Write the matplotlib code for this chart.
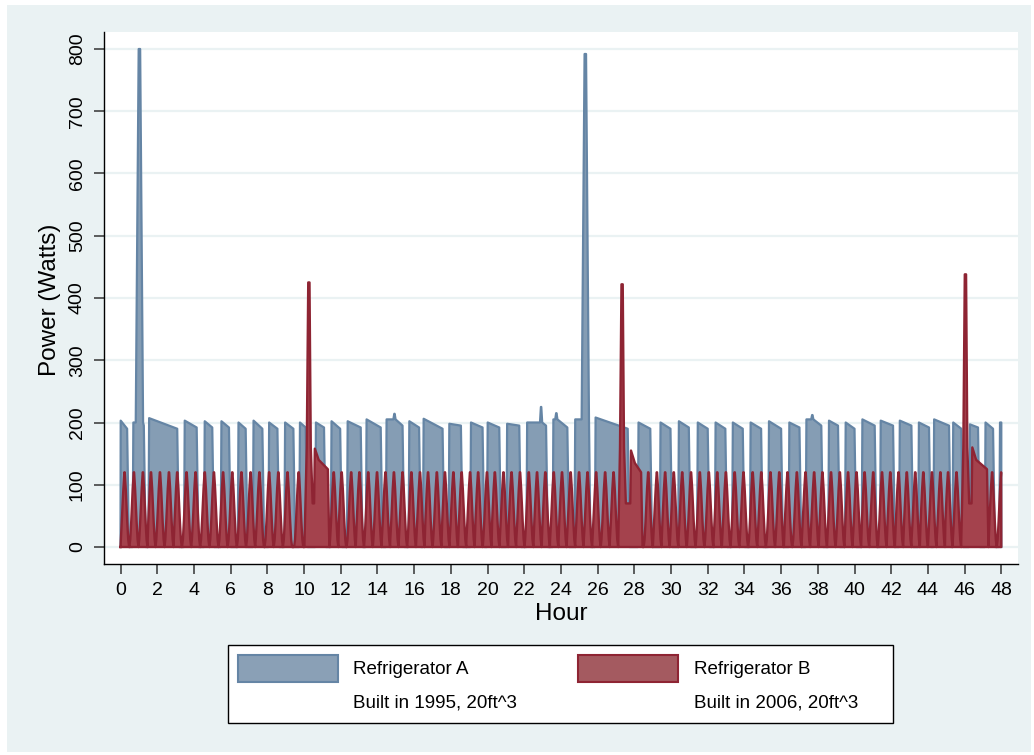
import numpy as np
import matplotlib
matplotlib.use("Agg")
import matplotlib.pyplot as plt
from matplotlib.patches import Rectangle

plt.rcParams['font.family'] = ['Liberation Sans', 'DejaVu Sans']

# Refrigerator A: compressor cycles (hour on, hour off, W at start, W at end)
a_on = [0.0, 0.69, 1.55, 3.49, 4.58, 5.49, 6.42, 7.24, 8.09, 8.96, 9.77, 10.64,
        11.49, 12.37, 13.4, 14.49, 15.73, 16.51, 17.91, 19.09, 20.0, 21.06, 22.15,
        23.58, 24.77, 25.88, 28.22, 29.42, 30.42, 31.45, 32.42, 33.36, 34.33, 35.33,
        36.44, 37.37, 38.6, 39.51, 40.42, 41.42, 42.46, 43.5, 44.33, 45.37, 46.28,
        47.13, 47.92]
a_off = [0.36, 1.27, 3.09, 4.15, 5.0, 5.91, 6.82, 7.73, 8.55, 9.42, 10.09, 11.09,
         11.97, 13.09, 14.18, 15.37, 16.27, 17.55, 18.55, 19.73, 20.64, 21.73, 23.19,
         24.35, 25.51, 27.64, 28.87, 29.97, 30.97, 32.0, 32.96, 33.91, 34.91, 36.0,
         37.0, 38.19, 39.1, 40.0, 41.1, 42.1, 43.1, 44.06, 45.15, 45.82, 46.73,
         47.55, 48.0]
a_top = [203, 200, 207, 203, 202, 202, 200, 203, 200, 200, 200, 200, 202, 202, 205,
         205, 202, 206, 198, 200, 200, 198, 200, 205, 205, 208, 200, 200, 202, 200,
         200, 200, 200, 202, 200, 205, 203, 200, 205, 203, 203, 200, 205, 200, 197,
         200, 200]
a_end = [190, 195, 190, 192, 192, 192, 190, 190, 190, 190, 192, 192, 190, 192, 192,
         195, 192, 190, 195, 192, 192, 195, 195, 192, 195, 190, 190, 190, 192, 190,
         190, 190, 190, 190, 192, 195, 195, 190, 195, 195, 195, 192, 195, 190, 192,
         190, 200]
# short surges inside the cycles of A
a_spike_t = [1.03, 14.93, 22.92, 23.75, 25.33, 37.7]
a_spike_w = [800, 214, 225, 215, 792, 212]

# Refrigerator B: short compressor peaks (hour of peak)
b_peak_t = [0.22, 0.73, 1.22, 1.66, 2.15, 2.64, 3.09, 3.6, 4.09, 4.59, 5.09, 5.59,
            6.09, 6.59, 7.09, 7.57, 8.1, 8.6, 9.1, 9.71,
            11.62, 12.05, 12.57, 13.02, 13.5, 13.98, 14.44, 14.9, 15.37, 15.85, 16.32,
            16.76, 17.24, 17.68, 18.14, 18.59, 19.05, 19.49, 19.97, 20.4, 20.87, 21.31,
            21.77, 22.25, 22.7, 23.15, 23.61, 24.06, 24.53, 24.99, 25.45, 25.92, 26.41,
            26.87,
            28.76, 29.23, 29.68, 30.15, 30.61, 31.09, 31.57, 32.06, 32.52, 32.99, 33.47,
            33.95, 34.45, 34.92, 35.42, 35.9, 36.35, 36.86, 37.33, 37.8, 38.25, 38.72,
            39.2, 39.65, 40.11, 40.55, 41.02, 41.5, 41.95, 42.4, 42.85, 43.31, 43.75,
            44.22, 44.68, 45.1, 45.56,
            47.5, 48.0]
b_peak_w = 120
# defrost surges of B and the longer run after each
b_spike_t = [10.27, 27.34, 46.05]
b_spike_w = [425, 422, 438]
b_hump_on = [10.55, 27.78, 46.38]
b_hump_off = [11.38, 28.45, 47.3]
b_hump_start = [158, 155, 160]
b_hump_mid = [140, 135, 140]
b_hump_end = [125, 120, 125]

t_end = 48.0


def to_line(segs):
    # join segments in time order, keep x strictly increasing, stop at t_end
    segs.sort(key=lambda s: s[0][0])
    xs, ys = [0.0], [0.0]
    for s in segs:
        for x, y in s:
            if x > xs[-1] and x <= t_end:
                xs.append(x)
                ys.append(y)
    return np.array(xs), np.array(ys)


def series_a():
    segs = []
    for on, off, top, end in zip(a_on, a_off, a_top, a_end):
        seg = [(on - 0.03, 0), (on + 0.01, top)]
        for t, w in zip(a_spike_t, a_spike_w):
            if on < t < off:
                h, p = (0.2, 0.04) if w > 400 else (0.06, 0.01)
                seg += [(t - h, top), (t - p, w), (t + p, w), (t + h, top)]
        seg += [(off, end), (off + 0.1, 0)]
        segs.append(seg)
    return to_line(segs)


def series_b():
    segs = []
    dt = [-0.25, -0.2, -0.147, -0.065, -0.01, 0.01, 0.065, 0.147, 0.2, 0.25]
    fr = [0, 0.1, 0.34, 0.78, 1, 1, 0.78, 0.34, 0.1, 0]
    for t in b_peak_t:
        segs.append([(t + d, f * b_peak_w) for d, f in zip(dt, fr)])
    for t, w in zip(b_spike_t, b_spike_w):
        segs.append([(t - 0.25, 0), (t - 0.12, 160), (t - 0.04, w), (t + 0.03, w),
                     (t + 0.1, 160), (t + 0.2, 70)])
    for on, off, s, m, e in zip(b_hump_on, b_hump_off, b_hump_start, b_hump_mid, b_hump_end):
        segs.append([(on, 70), (on + 0.04, s), (on + 0.25, m), (off - 0.08, e), (off, 0)])
    return to_line(segs)


W, H = 1034, 755
fig = plt.figure(figsize=(W / 100, H / 100), dpi=100)
fig.patch.set_facecolor("white")
fig.add_artist(Rectangle((7 / W, 1 - 752 / H), 1024 / W, 747 / H, transform=fig.transFigure,
                         facecolor="#eaf2f3", edgecolor="none", zorder=-5))

ax = fig.add_axes([104 / W, 1 - 564 / H, 914 / W, 532 / H])
ax.set_facecolor("white")

blue_fill, blue_edge = "#859db4", "#6585a5"
red_fill, red_edge = "#a4424d", "#8e2433"

xa, ya = series_a()
ax.fill_between(xa, ya, 0, facecolor=blue_fill, linewidth=0, zorder=2)
ax.plot(np.r_[xa, t_end], np.r_[ya, 0], color=blue_edge, lw=1.6, zorder=2.1)
xb, yb = series_b()
ax.fill_between(xb, yb, 0, facecolor=red_fill, linewidth=0, zorder=3)
ax.plot(np.r_[xb, t_end, 0], np.r_[yb, 0, 0], color=red_edge, lw=1.7, zorder=3.1)

ax.set_xlim(-0.9, 48.91)
ax.set_ylim(-27.3, 827.3)
ax.set_xticks(range(0, 49, 2))
ax.set_yticks(range(0, 801, 100))
ax.yaxis.grid(True, color="#eaf2f3", linewidth=1.6)
ax.set_axisbelow(True)
for s in ["top", "right"]:
    ax.spines[s].set_visible(False)
for s in ["left", "bottom"]:
    ax.spines[s].set_linewidth(1.0)
ax.tick_params(axis="both", length=7, width=1.1, color="#333333", labelsize=14, pad=6)
for lab in ax.get_yticklabels():
    lab.set_rotation(90)
    lab.set_va("center")

fig.text(50 / W, 1 - 300 / H, "Power (Watts)", rotation=90, ha="center", va="center", fontsize=17.5)
fig.text(561 / W, 1 - 614 / H, "Hour", ha="center", va="center", fontsize=17.5)


# legend box
def px(x):
    return x / W


def py(y):
    return 1 - y / H


fig.add_artist(Rectangle((px(228), py(723)), px(893) - px(228), py(645) - py(723),
                         transform=fig.transFigure, facecolor="white", edgecolor="black",
                         linewidth=1.0))
fig.add_artist(Rectangle((px(238), py(682)), px(338) - px(238), py(655) - py(682),
                         transform=fig.transFigure, facecolor="#8aa0b6", edgecolor=blue_edge,
                         linewidth=1.5))
fig.add_artist(Rectangle((px(578), py(682)), px(678) - px(578), py(655) - py(682),
                         transform=fig.transFigure, facecolor="#a45a60", edgecolor=red_edge,
                         linewidth=1.5))
fig.text(px(353), py(670), "Refrigerator A", ha="left", va="center", fontsize=13.5)
fig.text(px(353), py(703), "Built in 1995, 20ft^3", ha="left", va="center", fontsize=13.5)
fig.text(px(694), py(670), "Refrigerator B", ha="left", va="center", fontsize=13.5)
fig.text(px(694), py(703), "Built in 2006, 20ft^3", ha="left", va="center", fontsize=13.5)

fig.savefig("out.png", dpi=100)
